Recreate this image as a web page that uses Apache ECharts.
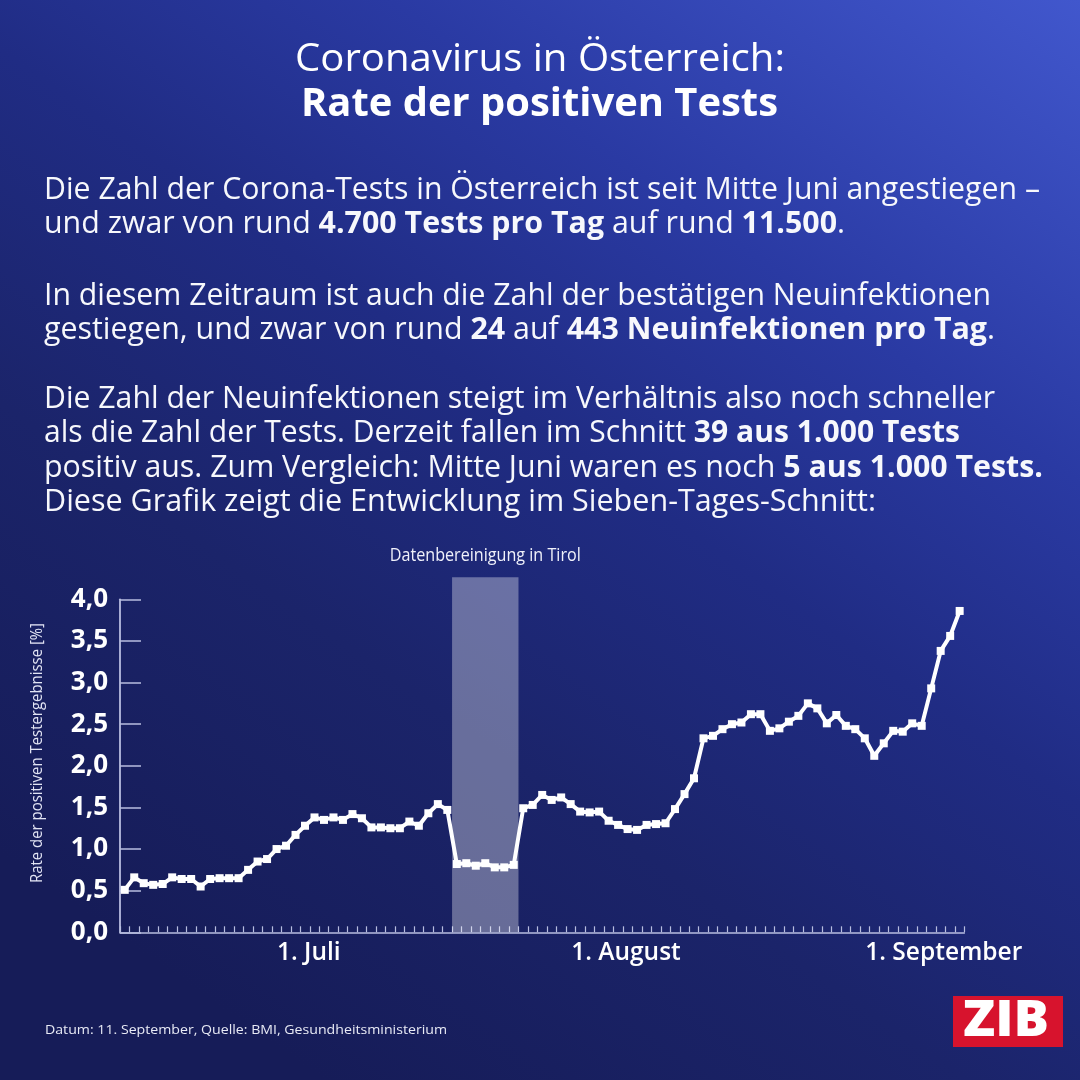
<!DOCTYPE html>
<html>
<head>
<meta charset="utf-8">
<script src="https://cdn.jsdelivr.net/npm/echarts@6/dist/echarts.min.js"></script>
<style>
html,body{margin:0;padding:0;background:#1b2570;}
#chart{width:1080px;height:1080px;}
</style>
</head>
<body>
<div id="chart"></div>
<script>
// ---------------- data ----------------
const categories = [
 '14.06.','15.06.','16.06.','17.06.','18.06.','19.06.','20.06.','21.06.','22.06.','23.06.','24.06.','25.06.','26.06.','27.06.','28.06.','29.06.','30.06.',
 '01.07.','02.07.','03.07.','04.07.','05.07.','06.07.','07.07.','08.07.','09.07.','10.07.','11.07.','12.07.','13.07.','14.07.','15.07.','16.07.','17.07.','18.07.','19.07.','20.07.','21.07.','22.07.','23.07.','24.07.','25.07.','26.07.','27.07.','28.07.','29.07.','30.07.','31.07.',
 '01.08.','02.08.','03.08.','04.08.','05.08.','06.08.','07.08.','08.08.','09.08.','10.08.','11.08.','12.08.','13.08.','14.08.','15.08.','16.08.','17.08.','18.08.','19.08.','20.08.','21.08.','22.08.','23.08.','24.08.','25.08.','26.08.','27.08.','28.08.','29.08.','30.08.','31.08.',
 '01.09.','02.09.','03.09.','04.09.','05.09.','06.09.','07.09.','08.09.','09.09.','10.09.'
];
const positiveRate = [
 0.51,0.66,0.59,0.57,0.58,0.66,0.64,0.64,0.55,0.64,0.65,0.65,0.65,
 0.75,0.85,0.88,1.00,1.04,1.17,1.28,
 1.38,1.35,1.38,1.35,1.42,1.37,
 1.26,1.26,1.25,1.25,1.33,1.28,1.43,1.54,1.47,
 0.82,0.83,0.80,0.83,0.78,0.78,0.81,
 1.49,1.53,1.65,1.59,1.62,1.54,1.45,1.44,1.45,
 1.34,1.29,1.24,1.23,1.29,1.30,1.31,1.48,1.66,1.85,
 2.33,2.36,2.44,2.50,2.52,2.62,2.62,2.42,2.45,2.53,
 2.60,2.75,2.69,2.51,2.61,2.48,2.44,2.33,2.12,2.27,
 2.42,2.41,2.51,2.48,2.93,3.38,3.56,3.86
];
const monthLabels = {'01.07.':'1. Juli','01.08.':'1. August','01.09.':'1. September'};
const cleanupDays = ['19.07.','25.07.'];
const cleanupLabel = 'Datenbereinigung in Tirol';
const yAxisName = 'Rate der positiven Testergebnisse [%]';
const titleLines = ['Coronavirus in Österreich:', 'Rate der positiven Tests'];
const bodyLines = [
 [['Die Zahl der Corona-Tests in Österreich ist seit Mitte Juni angestiegen –',0]],
 [['und zwar von rund ',0],['4.700 Tests pro Tag',1],[' auf rund ',0],['11.500',1],['.',0]],
 [['In diesem Zeitraum ist auch die Zahl der bestätigen Neuinfektionen',0]],
 [['gestiegen, und zwar von rund ',0],['24',1],[' auf ',0],['443 Neuinfektionen pro Tag',1],['.',0]],
 [['Die Zahl der Neuinfektionen steigt im Verhältnis also noch schneller',0]],
 [['als die Zahl der Tests. Derzeit fallen im Schnitt ',0],['39 aus 1.000 Tests',1]],
 [['positiv aus. Zum Vergleich: Mitte Juni waren es noch ',0],['5 aus 1.000 Tests.',1]],
 [['Diese Grafik zeigt die Entwicklung im Sieben-Tages-Schnitt:',0]]
];
const footerText = 'Datum: 11. September, Quelle: BMI, Gesundheitsministerium';
const logoText = 'ZIB';

// ---------------- text helpers ----------------
const FONT = '"Open Sans", "Noto Sans", sans-serif';
const mctx = document.createElement('canvas').getContext('2d');
function measure(text, size, weight){
  mctx.font = weight + ' ' + size + 'px ' + FONT;
  return mctx.measureText(text).width;
}
function textLine(segs, o){
  const wN = o.weightN || 'normal', wB = o.weightB || 'bold';
  let natural = 0, str = '';
  segs.forEach(s => {
    natural += measure(s[0], o.size, s[1] ? wB : wN);
    str += '{' + (s[1] ? 'b' : 'n') + '|' + s[0] + '}';
  });
  const sx = o.width ? o.width / natural : 1;
  const base = {fontFamily: FONT, fontSize: o.size, fill: o.color || '#ffffff', lineHeight: Math.round(o.size*1.25)};
  return {
    type: 'text', x: o.x, y: o.baseline - o.size*0.38, scaleX: sx, rotation: o.rotation || 0, z: 10,
    style: {
      text: str, align: o.align || 'left', verticalAlign: 'middle',
      rich: {n: Object.assign({}, base, {fontWeight: wN}), b: Object.assign({}, base, {fontWeight: wB})}
    }
  };
}

const graphics = [];
graphics.push(textLine([[titleLines[0],0]], {x:540, baseline:75, size:39, width:490, align:'center', weightN:'normal'}));
graphics.push(textLine([[titleLines[1],1]], {x:539.5, baseline:120, size:39, width:477, align:'center'}));
const bodyBaselines = [201.5, 235.5, 307.5, 341.5, 411, 445, 479.5, 513.5];
const bodyRight = [1042, 847, 993, 997, 997, 962, 1045, 878];
bodyLines.forEach((segs, i) => {
  graphics.push(textLine(segs, {x:44, baseline:bodyBaselines[i], size:31, width:bodyRight[i]-46, color:'#f7f8fc'}));
});
graphics.push(textLine([[footerText,0]], {x:45, baseline:1035, size:13.5, width:402, color:'#e8eaf5'}));
graphics.push({type:'rect', shape:{x:953, y:996, width:110, height:51}, style:{fill:'#d7132d'}, z:10});
graphics.push(textLine([[logoText,1]], {x:1006, baseline:1041, size:49, width:86, align:'center', weightB:800}));
(function(){
  const size = 16;
  const natural = measure(yAxisName, size, 'normal');
  graphics.push({type:'text', x:37, y:753, rotation:Math.PI/2, scaleX:260/natural, z:10,
    style:{text:yAxisName, fontFamily:FONT, fontSize:size, fontWeight:'normal', fill:'#e2e4f4', align:'center', verticalAlign:'middle'}});
})();

// ---------------- chart ----------------
const chart = echarts.init(document.getElementById('chart'), null, {renderer:'canvas'});
const axisColor = '#b8bde0';
const bandStart = categories.indexOf(cleanupDays[0]);
const bandEnd = categories.indexOf(cleanupDays[1]);
const labelSize = 18;
const labelScale = 191 / measure(cleanupLabel, labelSize, 'normal');

chart.setOption({
  animation: false,
  backgroundColor: {
    type:'linear', x:1, y:0, x2:0.3, y2:1,
    colorStops:[
      {offset:0, color:'#4157cd'},
      {offset:0.3, color:'#2a3aa3'},
      {offset:0.5, color:'#202c84'},
      {offset:0.72, color:'#1b246a'},
      {offset:1, color:'#161c58'}
    ]
  },
  grid: {left:120, right:115.6, top:599.3, bottom:147.7},
  xAxis: [{
    type:'category', data:categories, boundaryGap:true,
    axisLine:{show:true, lineStyle:{color:axisColor, width:1.5}},
    axisTick:{show:true, inside:true, length:6, interval:0, lineStyle:{color:axisColor, width:1.2}},
    axisLabel:{
      interval:(i, v) => monthLabels.hasOwnProperty(v),
      formatter:(v) => monthLabels[v] || '',
      align:'left', padding:[0,0,0,-9], margin:8,
      color:'#ffffff', fontFamily:FONT, fontWeight:600, fontSize:24.5
    },
    splitLine:{show:false}
  }],
  yAxis: [{
    type:'value', min:0, max:4, interval:0.5,
    axisLine:{show:true, lineStyle:{color:axisColor, width:1.8}},
    axisTick:{show:true, inside:true, length:21, lineStyle:{color:axisColor, width:1.5}},
    axisLabel:{formatter:(v) => v.toFixed(1).replace('.', ','), color:'#ffffff', fontFamily:FONT, fontWeight:'bold', fontSize:26, margin:12},
    splitLine:{show:false}
  }],
  series: [
    {
      type:'custom', xAxisIndex:0, yAxisIndex:0, z:1, silent:true,
      encode:{x:[0,1]},
      data:[[bandStart, bandEnd]],
      renderItem:(params, api) => {
        const w = api.size([1, 0])[0];
        const p0 = api.coord([api.value(0), 0]);
        const p1 = api.coord([api.value(1), 0]);
        const topY = api.coord([api.value(0), 4])[1] - 22;
        const x0 = p0[0] - w/2, x1 = p1[0] + w/2;
        return {type:'group', children:[
          {type:'rect', shape:{x:x0, y:topY, width:x1-x0, height:p0[1]-topY}, style:{fill:'rgba(255,255,255,0.34)'}},
          {type:'text', x:(x0+x1)/2, y:topY - 15 - labelSize*0.38, scaleX:labelScale,
           style:{text:cleanupLabel, fontFamily:FONT, fontSize:labelSize, fill:'#f0f1fa', align:'center', verticalAlign:'middle'}}
        ]};
      }
    },
    {
      type:'line', data:positiveRate, z:3,
      symbol:'rect', symbolSize:8, showAllSymbol:true,
      lineStyle:{color:'#ffffff', width:4},
      itemStyle:{color:'#ffffff'}
    }
  ],
  graphic: graphics
});
</script>
</body>
</html>
